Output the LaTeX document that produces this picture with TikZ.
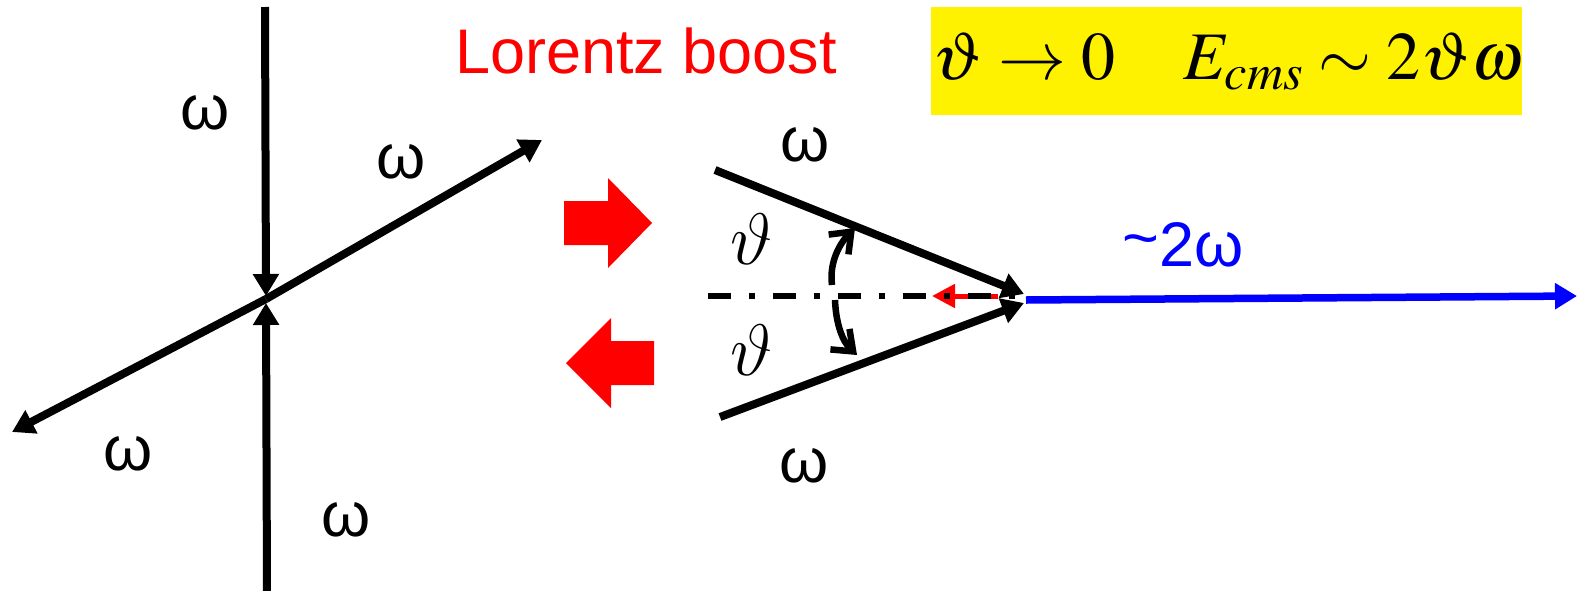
\RequirePackage{fix-cm}
\documentclass[tikz,border=0pt]{standalone}
\usepackage{mathptmx}
\usepackage[no-math]{fontspec}
\setmainfont{Liberation Sans}
\usetikzlibrary{arrows.meta}
\newcommand{\cmtheta}{{\usefont{OML}{cmm}{m}{it}\char"23}}
\begin{document}
\begin{tikzpicture}[x=1pt,y=-1pt,
        photon/.style={line width=8pt,-{Triangle[length=22pt,width=25pt]}},
        lbl/.style={font=\fontsize{63}{70}\selectfont},
        ang/.style={line width=6.5pt,-{Straight Barb[length=18pt,width=28pt]}},
        blockarrow/.style={fill=red}]
    \useasboundingbox (0,0) rectangle (1583,590);
    % lab frame: head-on collision
    \coordinate (top) at (265,7);
    \coordinate (bot) at (267,594);
    \coordinate (cross) at (266,299);
    \coordinate (intop) at (266,296);
    \coordinate (inbot) at (266,303);
    \coordinate (ne) at (542,140);
    \coordinate (sw) at (12,432);
    \draw [photon] (top) -- (intop);
    \draw [photon] (bot) -- (inbot);
    \draw [photon] (cross) -- (ne);
    \draw [photon] (cross) -- (sw);
    \node [lbl] (wtop) at (205,113) {ω};
    \node [lbl] (wne) at (401,162) {ω};
    \node [lbl] (wsw) at (128,454) {ω};
    \node [lbl] (wbot) at (346,520) {ω};
    \node [lbl, text=red] (boost) at (646,51) {Lorentz boost};
    \fill [blockarrow] (564,201) -- (608,201) -- (608,178) -- (652,223) -- (608,268) -- (608,245) -- (564,245) -- cycle;
    \fill [blockarrow] (654,341) -- (611,341) -- (611,318) -- (566,363) -- (611,408) -- (611,385) -- (654,385) -- cycle;
    % boosted frame
    \coordinate (ul) at (715,170);
    \coordinate (utip) at (1024,294);
    \coordinate (ll) at (720,417);
    \coordinate (ltip) at (1024,303);
    \coordinate (axl) at (708,296);
    \coordinate (axr) at (1022,296);
    \coordinate (rs) at (998,296);
    \coordinate (re) at (932,296);
    \coordinate (bs) at (1026,300);
    \coordinate (be) at (1577,296);
    \draw [red, line width=5pt, -{Triangle[length=23pt,width=23pt]}] (rs) -- (re);
    \draw [line width=6pt, dash pattern=on 23pt off 18pt on 6pt off 18pt] (axl) -- (axr);
    \draw [photon] (ul) -- (utip);
    \draw [photon] (ll) -- (ltip);
    \draw [blue, line width=7.5pt, -{Triangle[length=22pt,width=25pt]}] (bs) -- (be);
    \coordinate (a1s) at (832,285);
    \coordinate (a1e) at (855,228);
    \coordinate (a2s) at (835,300);
    \coordinate (a2e) at (857,355);
    \draw [ang] (a1s) .. controls (829,262) and (840,243) .. (a1e);
    \draw [ang] (a2s) .. controls (836,325) and (843,342) .. (a2e);
    \node [font=\fontsize{73}{80}\selectfont] (thup) at (752,239) {\cmtheta};
    \node [font=\fontsize{73}{80}\selectfont] (thdn) at (752,350) {\cmtheta};
    \node [lbl] (wup) at (805,145) {ω};
    \node [lbl] (wdn) at (804,466) {ω};
    \node [lbl, text=blue] (wsum) at (1183,245) {\raisebox{0.12em}{\textasciitilde}2ω};
    % result box
    \node [fill=yellow, minimum width=591pt, minimum height=108pt, inner sep=0pt] (cmsbox) at (1226.5,61) {};
    \node [anchor=base, inner sep=0pt, font=\fontsize{68}{70}\selectfont] (cms) at (1228,79) {$\vartheta\rightarrow 0\quad E_{cms}\sim 2\vartheta\omega$};
\end{tikzpicture}
\end{document}
